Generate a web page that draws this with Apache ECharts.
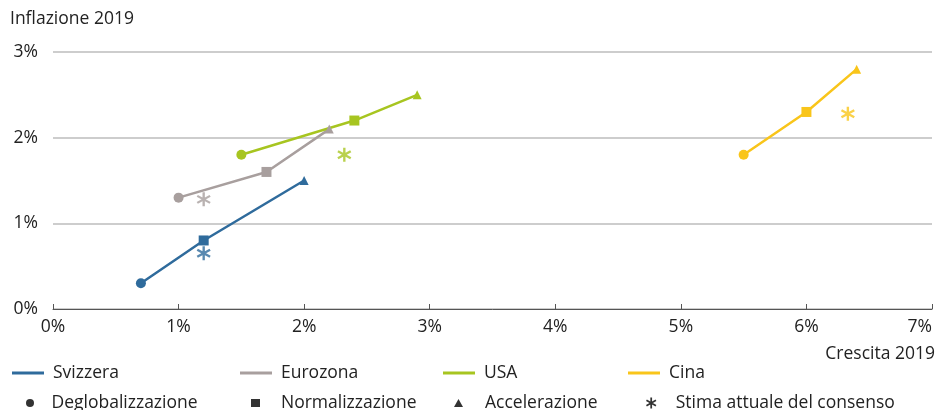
<!DOCTYPE html>
<html>
<head>
<meta charset="utf-8">
<script src="https://cdn.jsdelivr.net/npm/echarts@6/dist/echarts.min.js"></script>
<style>
  html, body { margin: 0; padding: 0; background: #fff; }
  #chart { width: 938px; height: 410px; }
</style>
</head>
<body>
<div id="chart"></div>
<script>
const countries = ['Svizzera', 'Eurozona', 'USA', 'Cina'];
const colors = ['#2f6b9c', '#a89f9e', '#a7c520', '#f9c51a'];
const scenarios = ['Deglobalizzazione', 'Normalizzazione', 'Accelerazione', 'Stima attuale del consenso'];

// growth (x) / inflation (y), in %
const growthDeglob = [0.7, 1.0, 1.5, 5.5];
const inflDeglob = [0.3, 1.3, 1.8, 1.8];
const growthNorm = [1.2, 1.7, 2.4, 6.0];
const inflNorm = [0.8, 1.6, 2.2, 2.3];
const growthAccel = [2.0, 2.2, 2.9, 6.4];
const inflAccel = [1.5, 2.1, 2.5, 2.8];
const growthCons = [1.2, 1.2, 2.32, 6.33];
const inflCons = [0.65, 1.28, 1.8, 2.28];

const xTicks = [0, 1, 2, 3, 4, 5, 6, 7];
const yTicks = [0, 1, 2, 3];

const FONT = '"Open Sans", "Noto Sans", sans-serif';
const FS = 17.5;
const asterisk = 'path://M0.42 0 L0.58 0 L0.58 1 L0.42 1 Z ' +
  'M0.893 0.181 L0.973 0.319 L0.107 0.819 L0.027 0.681 Z ' +
  'M0.027 0.319 L0.107 0.181 L0.973 0.681 L0.893 0.819 Z';
const markerIcons = ['circle', 'rect', 'triangle', asterisk];

var chartDom = document.getElementById('chart');
var myChart = echarts.init(chartDom, null, { renderer: 'canvas' });

const series = [];
countries.forEach((name, i) => {
  series.push({
    name: name,
    type: 'line',
    data: [
      { value: [growthDeglob[i], inflDeglob[i]], symbol: 'circle', symbolSize: 10 },
      { value: [growthNorm[i], inflNorm[i]], symbol: 'rect', symbolSize: 10 },
      { value: [growthAccel[i], inflAccel[i]], symbol: 'triangle', symbolSize: 9 }
    ],
    showAllSymbol: true,
    color: colors[i],
    lineStyle: { width: 2.5, color: colors[i] },
    itemStyle: { color: colors[i] },
    z: 3
  });
  series.push({
    name: name + ' consenso',
    type: 'scatter',
    data: [[growthCons[i], inflCons[i]]],
    symbol: asterisk,
    symbolSize: 14,
    itemStyle: { color: colors[i] },
    z: 4
  });
});
// legend-only series for the marker types
scenarios.forEach((s) => {
  series.push({ name: s, type: 'scatter', data: [], itemStyle: { color: '#000' } });
});

const lineLegendX = [12, 240, 443, 628];
const markerLegendX = [26, 251, 454, 646];
const markerTextPad = [12, 16, 17, 14];
const legends = [];
countries.forEach((name, i) => {
  legends.push({
    data: [name], left: lineLegendX[i], top: 364, padding: 0, icon: 'rect',
    itemWidth: 32, itemHeight: 3, itemGap: 0,
    textStyle: { fontFamily: FONT, fontSize: FS, color: '#222', padding: [0, 0, 0, 4] },
    selectedMode: false
  });
});
scenarios.forEach((s, k) => {
  legends.push({
    data: [s], left: markerLegendX[k], top: 394, padding: 0, icon: markerIcons[k],
    itemWidth: k === 3 ? 11 : 9, itemHeight: k === 3 ? 11 : 8,
    textStyle: { fontFamily: FONT, fontSize: FS, color: '#222', padding: [0, 0, 0, markerTextPad[k]] },
    selectedMode: false
  });
});

const option = {
  animation: false,
  textStyle: { fontFamily: FONT },
  grid: { left: 53, right: 6, top: 52, bottom: 101, outerBoundsMode: 'none' },
  legend: legends,
  graphic: [
    { type: 'text', left: 10, top: 10, style: { text: 'Inflazione 2019', fontFamily: FONT, fontSize: FS, fill: '#222' } },
    { type: 'text', right: 3, top: 345, style: { text: 'Crescita 2019', fontFamily: FONT, fontSize: FS, fill: '#222' } }
  ],
  xAxis: {
    type: 'value', min: xTicks[0], max: xTicks[xTicks.length - 1], interval: 1,
    axisLine: { show: true, lineStyle: { color: '#555', width: 1 } },
    axisTick: { show: true, inside: true, length: 5, lineStyle: { color: '#555' } },
    splitLine: { show: false },
    axisLabel: { formatter: '{value}%', fontFamily: FONT, fontSize: FS, color: '#222', margin: 9, alignMaxLabel: 'right' }
  },
  yAxis: {
    type: 'value', min: yTicks[0], max: yTicks[yTicks.length - 1], interval: 1,
    axisLine: { show: false },
    axisTick: { show: false },
    splitLine: { show: true, lineStyle: { color: '#bdbdbd', width: 1.5 } },
    axisLabel: { formatter: '{value}%', fontFamily: FONT, fontSize: FS, color: '#222', margin: 15 }
  },
  series: series
};
myChart.setOption(option);
</script>
</body>
</html>
